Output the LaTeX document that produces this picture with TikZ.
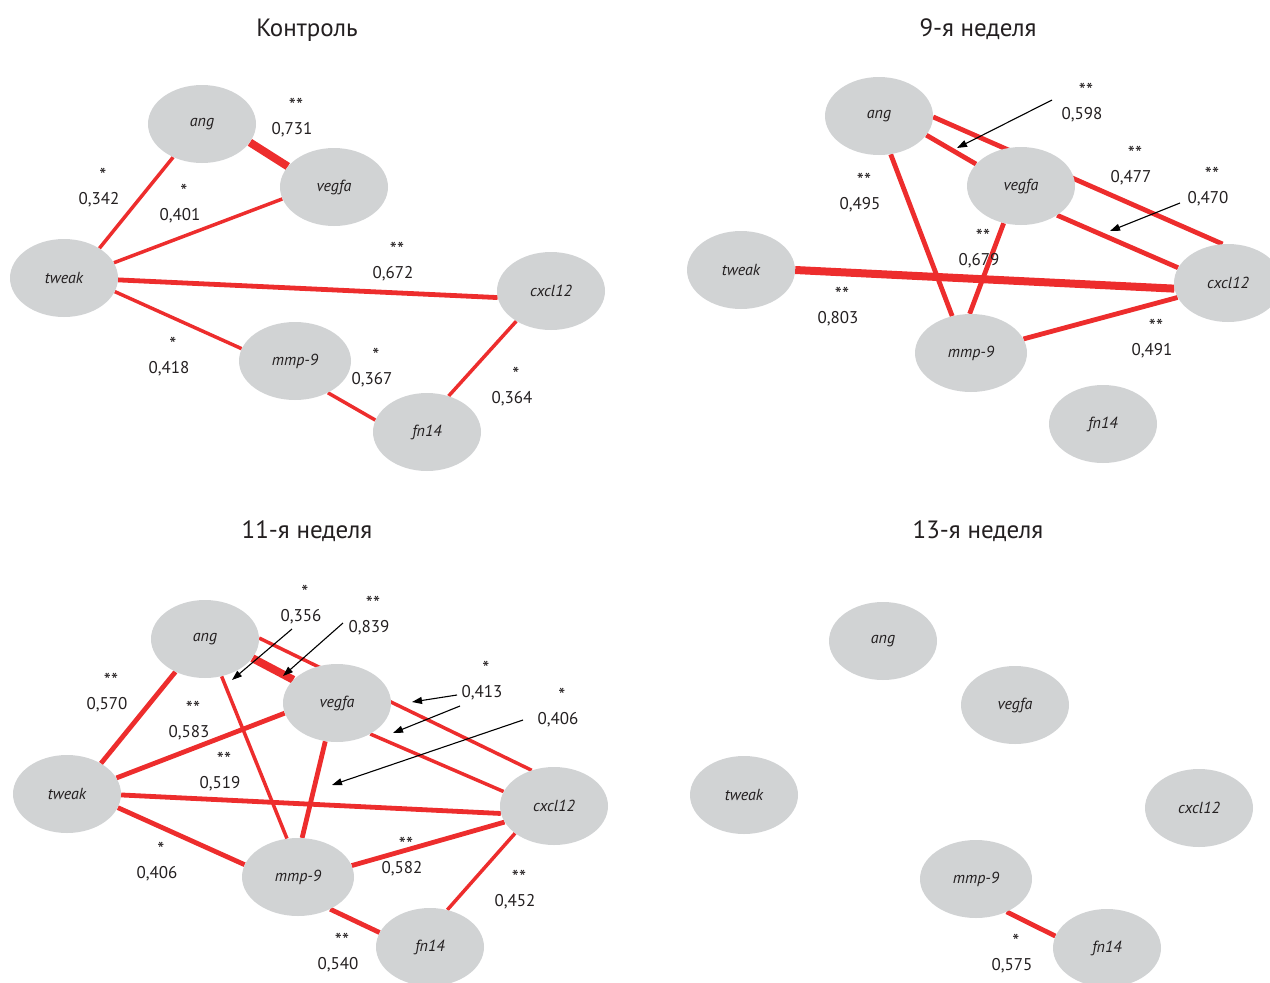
\documentclass[tikz,border=0pt]{standalone}
\usepackage{fontspec}
\setmainfont{PT Sans}
\usetikzlibrary{shapes.geometric,arrows.meta,backgrounds}

\definecolor{edgered}{RGB}{237,45,45}
\definecolor{nodegray}{RGB}{209,211,212}
\definecolor{ink}{RGB}{35,31,32}

\tikzset{
  gene/.style={ellipse, fill=nodegray, minimum width=108pt, minimum height=78pt,
    inner sep=0pt, text=ink, font=\fontsize{16}{16}\selectfont\itshape},
  widegene/.style={gene, minimum width=112pt},
  r1/.style={draw=edgered, line width=3.5pt},
  r2/.style={draw=edgered, line width=4.8pt},
  r4/.style={draw=edgered, line width=8pt},
  val/.style={inner sep=0pt, text=ink, font=\fontsize{17}{17}\selectfont},
  starmark/.style={inner sep=0pt, text=ink, font=\fontsize{20}{20}\selectfont},
  paneltitle/.style={inner sep=0pt, text=ink, font=\fontsize{25}{25}\selectfont},
  pointer/.style={draw=black, line width=1.1pt, -{Triangle[length=10pt,width=7pt]}}
}

% correlation label: name, x, baseline y, significance stars, coefficient
\newcommand{\corr}[5]{%
  \node[val, anchor=base] (#1) at (#2,#3) {#5};
  \node[starmark, anchor=base] (#1s) at (#2+4,#3-22) {#4};
}

\begin{document}
\begin{tikzpicture}[x=1pt, y=-1pt]
\useasboundingbox (0,0) rectangle (1270,983);

% ---------------- Контроль ----------------
\node[paneltitle, anchor=base] (t1) at (307,36) {Контроль};
\node[gene] (p1ang) at (202,124) {ang};
\node[gene] (p1veg) at (334,187) {vegfa};
\node[gene] (p1twk) at (64,278) {tweak};
\node[gene] (p1cxc) at (551,291) {cxcl12};
\node[widegene] (p1mmp) at (295,361) {mmp-9};
\node[gene] (p1fn) at (427,432) {fn14};
\begin{pgfonlayer}{background}
  \draw[r4] (p1ang.-21) -- (p1veg.156);
  \draw[r1] (p1twk.40) -- (p1ang.-131);
  \draw[r1] (p1twk.17) -- (p1veg.193);
  \draw[r2] (p1twk.-2) -- (p1cxc.187);
  \draw[r1] (p1twk.-15) -- (p1mmp.167);
  \draw[r1] (p1mmp.-44) -- (p1fn.167);
  \draw[r1] (p1cxc.221) -- (p1fn.59);
\end{pgfonlayer}
\corr{c1a}{292}{134.5}{**}{0,731}
\corr{c1b}{99}{204.5}{*}{0,342}
\corr{c1c}{180}{220.5}{*}{0,401}
\corr{c1d}{393}{278.5}{**}{0,672}
\corr{c1e}{169}{373.5}{*}{0,418}
\corr{c1f}{372}{384.5}{*}{0,367}
\corr{c1g}{512}{403.5}{*}{0,364}

% ---------------- 9-я неделя ----------------
\node[paneltitle, anchor=base] (t2) at (978,36) {9-я неделя};
\node[gene] (p2ang) at (879,116) {ang};
\node[gene] (p2veg) at (1021,186) {vegfa};
\node[gene] (p2twk) at (741,270) {tweak};
\node[gene] (p2cxc) at (1228,283) {cxcl12};
\node[widegene] (p2mmp) at (971,353) {mmp-9};
\node[gene] (p2fn) at (1103,424) {fn14};
\begin{pgfonlayer}{background}
  \draw[r2] (p2ang.-1) -- (p2cxc.98);
  \draw[r2] (p2ang.-22) -- (p2veg.154);
  \draw[r2] (p2veg.-39) -- (p2cxc.163);
  \draw[r2] (p2ang.-73) -- (p2mmp.117);
  \draw[r2] (p2veg.-115) -- (p2mmp.92);
  \draw[r4] (p2twk.0) -- (p2cxc.186);
  \draw[r2] (p2mmp.15) -- (p2cxc.196);
\end{pgfonlayer}
\corr{c2a}{1082}{119.5}{**}{0,598}
\corr{c2b}{1131}{182.5}{**}{0,477}
\corr{c2c}{1208}{203.5}{**}{0,470}
\corr{c2d}{979}{265.5}{**}{0,679}
\corr{c2e}{860}{209.5}{**}{0,495}
\corr{c2f}{838}{323.5}{**}{0,803}
\corr{c2g}{1152}{355.5}{**}{0,491}
\coordinate (q2a) at (1052,100); \coordinate (q2ae) at (957,148);
\coordinate (q2b) at (1180,203); \coordinate (q2be) at (1110,231);
\draw[pointer] (q2a) -- (q2ae);
\draw[pointer] (q2b) -- (q2be);

% ---------------- 11-я неделя ----------------
\node[paneltitle, anchor=base] (t3) at (307,538) {11-я неделя};
\node[gene] (p3ang) at (205,639) {ang};
\node[gene] (p3veg) at (337,703) {vegfa};
\node[gene] (p3twk) at (67,794) {tweak};
\node[gene] (p3cxc) at (554,806) {cxcl12};
\node[widegene] (p3mmp) at (298,877) {mmp-9};
\node[gene] (p3fn) at (430,947) {fn14};
\begin{pgfonlayer}{background}
  \draw[r2] (p3twk.42) -- (p3ang.-132);
  \draw[r2] (p3twk.18) -- (p3veg.191);
  \draw[r2] (p3twk.-1) -- (p3cxc.188);
  \draw[r2] (p3twk.-15) -- (p3mmp.167);
  \draw[r4] (p3ang.-22) -- (p3veg.152);
  \draw[r1] (p3ang.1) -- (p3cxc.122);
  \draw[r1] (p3veg.-43) -- (p3cxc.164);
  \draw[r1] (p3ang.-66) -- (p3mmp.106);
  \draw[r2] (p3veg.-107) -- (p3mmp.84);
  \draw[r2] (p3mmp.12) -- (p3cxc.198);
  \draw[r2] (p3mmp.-45) -- (p3fn.164);
  \draw[r1] (p3cxc.215) -- (p3fn.65);
\end{pgfonlayer}
\corr{c3a}{107}{709}{**}{0,570}
\corr{c3b}{189}{737}{**}{0,583}
\corr{c3c}{220}{788}{**}{0,519}
\corr{c3d}{157}{878}{*}{0,406}
\corr{c3e}{301}{621}{*}{0,356}
\corr{c3f}{369}{632}{**}{0,839}
\corr{c3g}{482}{697}{*}{0,413}
\corr{c3h}{558}{724}{*}{0,406}
\corr{c3i}{402}{873}{**}{0,582}
\corr{c3j}{515}{906}{**}{0,452}
\corr{c3k}{338}{969}{**}{0,540}
\coordinate (q3a) at (292,629); \coordinate (q3ae) at (232,680);
\coordinate (q3b) at (343,623); \coordinate (q3be) at (283,676);
\coordinate (q3c) at (457,695); \coordinate (q3ce) at (412,702);
\coordinate (q3d) at (460,706); \coordinate (q3de) at (393,733);
\coordinate (q3e) at (523,720); \coordinate (q3ee) at (332,785);
\draw[pointer] (q3a) -- (q3ae);
\draw[pointer] (q3b) -- (q3be);
\draw[pointer] (q3c) -- (q3ce);
\draw[pointer] (q3d) -- (q3de);
\draw[pointer] (q3e) -- (q3ee);

% ---------------- 13-я неделя ----------------
\node[paneltitle, anchor=base] (t4) at (978,538) {13-я неделя};
\node[gene] (p4ang) at (883,641) {ang};
\node[gene] (p4veg) at (1015,705) {vegfa};
\node[gene] (p4twk) at (744,795) {tweak};
\node[gene] (p4cxc) at (1199,808) {cxcl12};
\node[widegene] (p4mmp) at (976,879) {mmp-9};
\node[gene] (p4fn) at (1107,948) {fn14};
\begin{pgfonlayer}{background}
  \draw[r2] (p4mmp.-47) -- (p4fn.167);
\end{pgfonlayer}
\corr{c4a}{1012}{970}{*}{0,575}

\end{tikzpicture}
\end{document}
